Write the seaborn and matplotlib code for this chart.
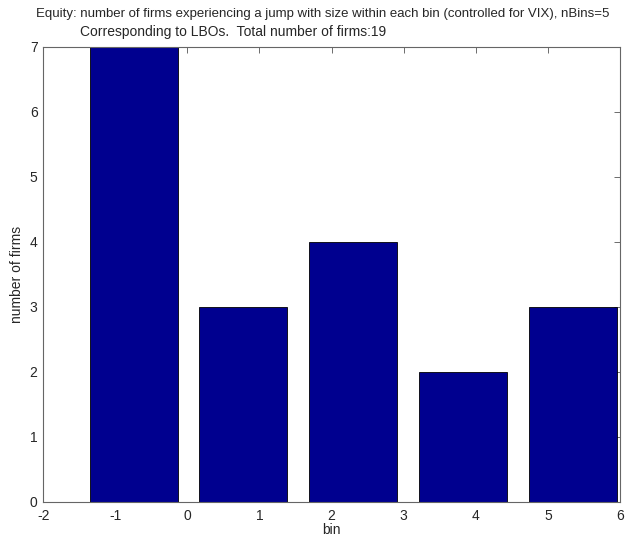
import seaborn as sns
import matplotlib.pyplot as plt
import pandas as pd

# bin centres and firm counts
bin_centers = [-0.745, 0.775, 2.30, 3.82, 5.35]
n_firms = [7, 3, 4, 2, 3]

x_ticks = [-2, -1, 0, 1, 2, 3, 4, 5, 6]
y_ticks = [0, 1, 2, 3, 4, 5, 6, 7]

title_1 = "Equity: number of firms experiencing a jump with size within each bin (controlled for VIX), nBins=5"
title_2 = "Corresponding to LBOs.  Total number of firms:19"

df = pd.DataFrame({"bin": bin_centers, "firms": n_firms})

sns.set_style("white")
plt.rcParams["font.family"] = ["Liberation Sans", "DejaVu Sans"]
plt.rcParams["axes.unicode_minus"] = False

fig = plt.figure(figsize=(6.25, 5.38), dpi=100)
ax = fig.add_axes([0.069, 0.067, 0.923, 0.846])

# bars drawn with matplotlib on seaborn-styled axes (numeric x positions)
ax.bar(df["bin"], df["firms"], width=1.22, color="#00008F",
       edgecolor="black", linewidth=0.6, zorder=2)

ax.set_xlim(-2, 6)
ax.set_ylim(0, 7)
ax.set_xticks(x_ticks)
ax.set_yticks(y_ticks)
ax.tick_params(direction="in", length=4, width=0.6, color="#555555",
               labelsize=10, top=True, right=True)
ax.tick_params(axis="x", pad=5)
ax.tick_params(axis="y", pad=4)
for s in ax.spines.values():
    s.set_color("#666666")
    s.set_linewidth(0.8)

ax.set_xlabel("bin", fontsize=10, labelpad=0)
ax.set_ylabel("number of firms", fontsize=10, labelpad=4)

fig.text(0.517, 0.974, title_1, ha="center", va="center", fontsize=9.5)
fig.text(0.128, 0.941, title_2, ha="left", va="center", fontsize=10)

fig.savefig("out.png", dpi=100)
